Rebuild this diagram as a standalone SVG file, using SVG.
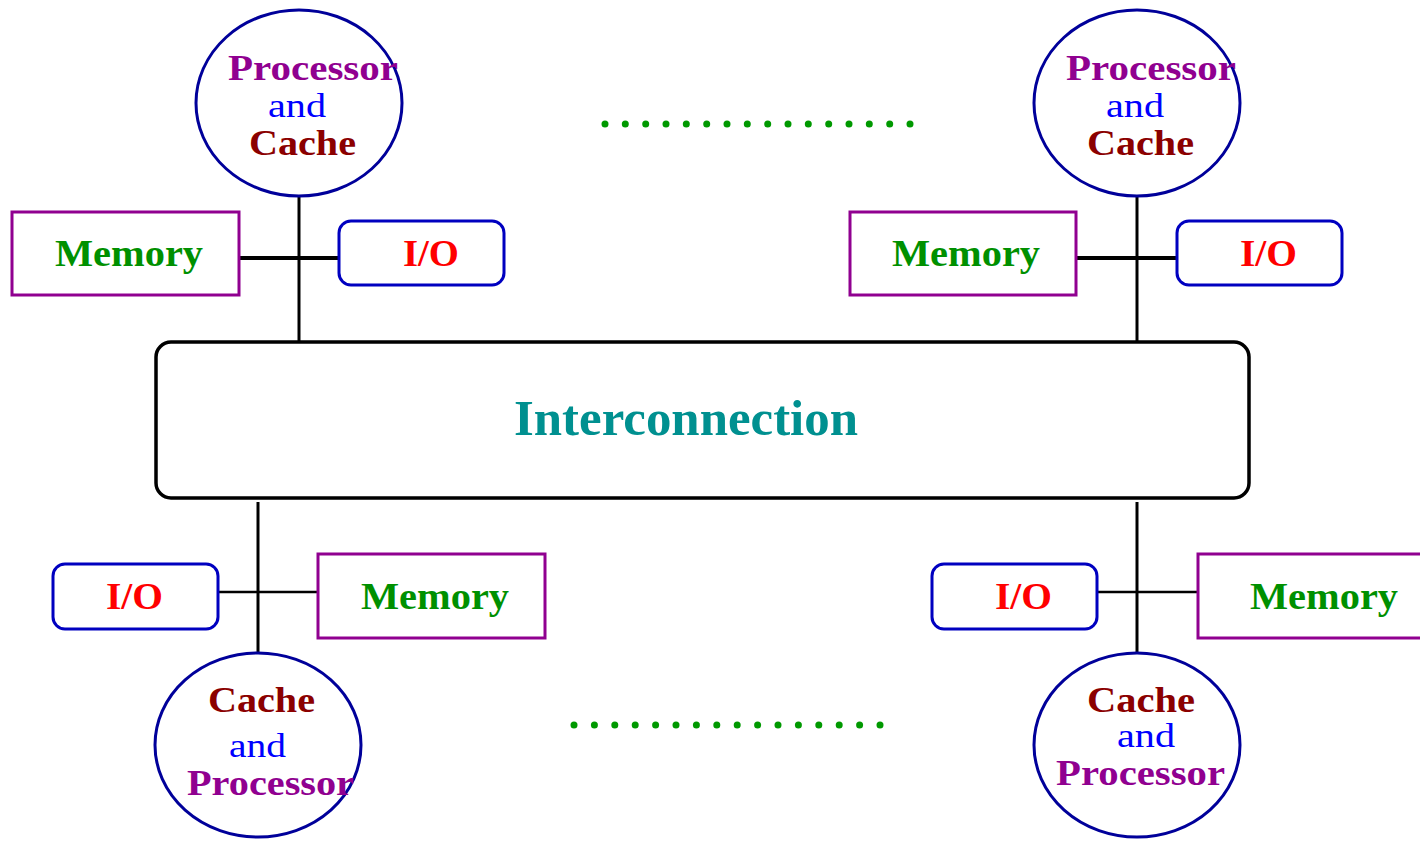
<svg xmlns="http://www.w3.org/2000/svg" width="1420" height="841" viewBox="0 0 1420 841">
<style>
text{font-family:"Liberation Serif","Times New Roman",serif}
.pc{fill:#fff;stroke:#00009a;stroke-width:3}
.mem{fill:#fff;stroke:#900090;stroke-width:3}
.io{fill:#fff;stroke:#0000c0;stroke-width:3}
.ln{stroke:#000;fill:none}
.proc{fill:#900090;font-weight:bold;font-size:36px}
.and{fill:#0000ff;font-size:34px}
.cache{fill:#8b0000;font-weight:bold;font-size:36px}
.mt{fill:#009000;font-weight:bold;font-size:37px}
.it{fill:#ff0000;font-weight:bold;font-size:37px}
.dot{fill:#009900}
</style>
<g id="connectors">
<line class="ln" x1="299" y1="195" x2="299" y2="347" stroke-width="3"/>
<line class="ln" x1="239" y1="258" x2="340" y2="258" stroke-width="4"/>
<line class="ln" x1="1137" y1="195" x2="1137" y2="347" stroke-width="3"/>
<line class="ln" x1="1076" y1="258" x2="1177" y2="258" stroke-width="4"/>
<line class="ln" x1="258" y1="502" x2="258" y2="655" stroke-width="3"/>
<line class="ln" x1="218" y1="592" x2="318" y2="592" stroke-width="2.5"/>
<line class="ln" x1="1137" y1="502" x2="1137" y2="655" stroke-width="3"/>
<line class="ln" x1="1097" y1="592" x2="1198" y2="592" stroke-width="2.5"/>
</g>
<g id="interconnection">
<rect x="156" y="342" width="1093" height="156" rx="15" fill="#fff" stroke="#000" stroke-width="3.5"/>
<text x="514" y="435" font-size="50" font-weight="bold" fill="#009090" textLength="344" lengthAdjust="spacingAndGlyphs">Interconnection</text>
</g>
<g id="pc-top-left">
<ellipse class="pc" cx="299" cy="103" rx="103" ry="93"/>
<text class="proc" x="228" y="80" textLength="170" lengthAdjust="spacingAndGlyphs">Processor</text>
<text class="and" x="268" y="117" textLength="58" lengthAdjust="spacingAndGlyphs">and</text>
<text class="cache" x="249" y="155" textLength="107" lengthAdjust="spacingAndGlyphs">Cache</text>
</g>
<g id="mem-top-left">
<rect class="mem" x="12" y="212" width="227" height="83"/>
<text class="mt" x="55" y="266" textLength="148" lengthAdjust="spacingAndGlyphs">Memory</text>
</g>
<g id="io-top-left">
<rect class="io" x="339" y="221" width="165" height="64" rx="12"/>
<text class="it" x="403" y="266" textLength="56" lengthAdjust="spacingAndGlyphs">I/O</text>
</g>
<g id="pc-top-right">
<ellipse class="pc" cx="1137" cy="103" rx="103" ry="93"/>
<text class="proc" x="1066" y="80" textLength="170" lengthAdjust="spacingAndGlyphs">Processor</text>
<text class="and" x="1106" y="117" textLength="58" lengthAdjust="spacingAndGlyphs">and</text>
<text class="cache" x="1087" y="155" textLength="107" lengthAdjust="spacingAndGlyphs">Cache</text>
</g>
<g id="mem-top-right">
<rect class="mem" x="850" y="212" width="226" height="83"/>
<text class="mt" x="892" y="266" textLength="148" lengthAdjust="spacingAndGlyphs">Memory</text>
</g>
<g id="io-top-right">
<rect class="io" x="1177" y="221" width="165" height="64" rx="12"/>
<text class="it" x="1240" y="266" textLength="57" lengthAdjust="spacingAndGlyphs">I/O</text>
</g>
<g id="io-bottom-left">
<rect class="io" x="53" y="564" width="165" height="65" rx="12"/>
<text class="it" x="106" y="609" textLength="57" lengthAdjust="spacingAndGlyphs">I/O</text>
</g>
<g id="mem-bottom-left">
<rect class="mem" x="318" y="554" width="227" height="84"/>
<text class="mt" x="361" y="609" textLength="148" lengthAdjust="spacingAndGlyphs">Memory</text>
</g>
<g id="pc-bottom-left">
<ellipse class="pc" cx="258" cy="745" rx="103" ry="92"/>
<text class="cache" x="208" y="712" textLength="107" lengthAdjust="spacingAndGlyphs">Cache</text>
<text class="and" x="229" y="757" textLength="57" lengthAdjust="spacingAndGlyphs">and</text>
<text class="proc" x="187" y="795" textLength="167" lengthAdjust="spacingAndGlyphs">Processor</text>
</g>
<g id="io-bottom-right">
<rect class="io" x="932" y="564" width="165" height="65" rx="12"/>
<text class="it" x="995" y="609" textLength="57" lengthAdjust="spacingAndGlyphs">I/O</text>
</g>
<g id="mem-bottom-right">
<rect class="mem" x="1198" y="554" width="230" height="84"/>
<text class="mt" x="1250" y="609" textLength="148" lengthAdjust="spacingAndGlyphs">Memory</text>
</g>
<g id="pc-bottom-right">
<ellipse class="pc" cx="1137" cy="745" rx="103" ry="92"/>
<text class="cache" x="1087" y="712" textLength="108" lengthAdjust="spacingAndGlyphs">Cache</text>
<text class="and" x="1117" y="747" textLength="58" lengthAdjust="spacingAndGlyphs">and</text>
<text class="proc" x="1056" y="785" textLength="169" lengthAdjust="spacingAndGlyphs">Processor</text>
</g>
<g id="dots-top" class="dot">
<circle cx="605" cy="124" r="3.5"/><circle cx="625.3" cy="124" r="3.5"/><circle cx="645.7" cy="124" r="3.5"/><circle cx="666" cy="124" r="3.5"/><circle cx="686.3" cy="124" r="3.5"/><circle cx="706.7" cy="124" r="3.5"/><circle cx="727" cy="124" r="3.5"/><circle cx="747.3" cy="124" r="3.5"/><circle cx="767.7" cy="124" r="3.5"/><circle cx="788" cy="124" r="3.5"/><circle cx="808.3" cy="124" r="3.5"/><circle cx="828.7" cy="124" r="3.5"/><circle cx="849" cy="124" r="3.5"/><circle cx="869.3" cy="124" r="3.5"/><circle cx="889.7" cy="124" r="3.5"/><circle cx="910" cy="124" r="3.5"/>
</g>
<g id="dots-bottom" class="dot">
<circle cx="574" cy="725" r="3.5"/><circle cx="594.4" cy="725" r="3.5"/><circle cx="614.8" cy="725" r="3.5"/><circle cx="635.2" cy="725" r="3.5"/><circle cx="655.6" cy="725" r="3.5"/><circle cx="676" cy="725" r="3.5"/><circle cx="696.4" cy="725" r="3.5"/><circle cx="716.8" cy="725" r="3.5"/><circle cx="737.2" cy="725" r="3.5"/><circle cx="757.6" cy="725" r="3.5"/><circle cx="778" cy="725" r="3.5"/><circle cx="798.4" cy="725" r="3.5"/><circle cx="818.8" cy="725" r="3.5"/><circle cx="839.2" cy="725" r="3.5"/><circle cx="859.6" cy="725" r="3.5"/><circle cx="880" cy="725" r="3.5"/>
</g>
</svg>
